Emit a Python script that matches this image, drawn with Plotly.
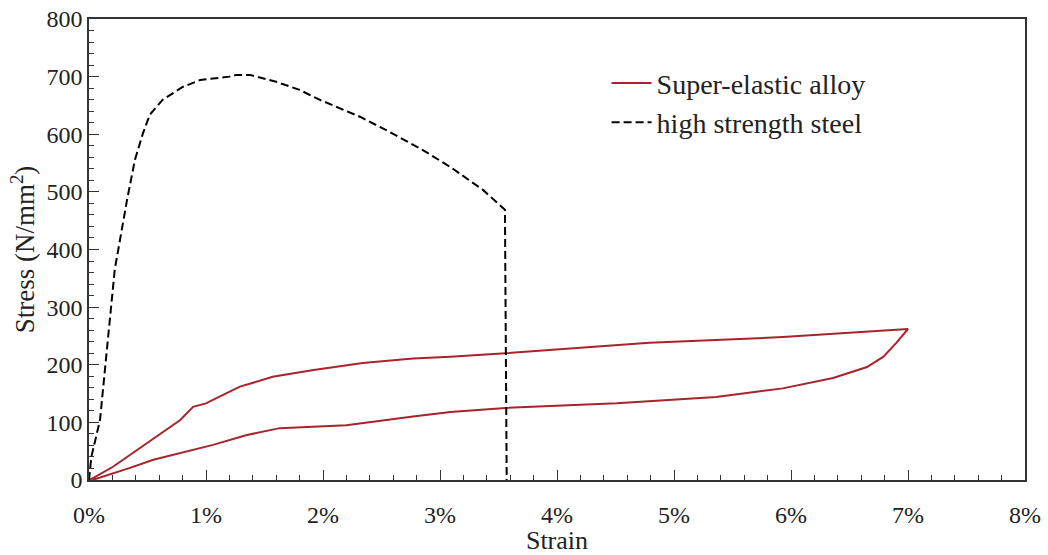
import plotly.graph_objects as go

# Super-elastic alloy: loading then unloading (strain %, stress N/mm2)
alloy_strain = [0.0, 0.03, 0.205, 0.5, 0.78, 0.89, 1.0, 1.12, 1.29, 1.57, 1.92, 2.34, 2.77, 3.09, 3.34, 3.56,
                4.79, 5.93, 7.0,
                6.9, 6.79, 6.65, 6.36, 5.93, 5.36, 4.51, 3.56, 3.34, 3.09, 2.77, 2.2, 1.63, 1.35, 1.06,
                0.78, 0.55, 0.35, 0.03]
alloy_stress = [0, 3, 23, 64, 104, 127, 133, 145, 162, 179, 191, 203, 211, 214, 217, 220,
                238, 248, 262,
                238, 214, 196, 177, 159, 144, 133, 125, 122, 118, 110, 95, 90, 78, 61,
                47, 35, 21, 0]

# High strength steel
steel_strain = [0.0, 0.02, 0.094, 0.137, 0.22, 0.325, 0.393, 0.46, 0.52, 0.63, 0.80, 0.95, 1.2, 1.26,
                1.376, 1.6, 1.8, 1.97, 2.32, 2.57, 2.85, 3.09, 3.37, 3.555, 3.57]
steel_stress = [0, 40, 104, 191, 365, 486, 556, 601, 634, 660, 682, 694, 700, 703,
                703, 691, 677, 660, 630, 604, 573, 543, 503, 469, 0]

x_ticks = [0, 1, 2, 3, 4, 5, 6, 7, 8]
x_tick_labels = ["0%", "1%", "2%", "3%", "4%", "5%", "6%", "7%", "8%"]
y_ticks = [0, 100, 200, 300, 400, 500, 600, 700, 800]

FONT = "Liberation Serif"
TXT = "#222"

fig = go.Figure()
fig.add_trace(go.Scatter(x=alloy_strain, y=alloy_stress, mode="lines",
                         name="Super-elastic alloy",
                         line=dict(color="#a8232a", width=2)))
fig.add_trace(go.Scatter(x=steel_strain, y=steel_stress, mode="lines",
                         name="high strength steel",
                         line=dict(color="black", width=2, dash="8px,4px")))

axis_common = dict(
    showgrid=False, zeroline=False, showline=True, linecolor="#333", linewidth=1.5,
    mirror=True, ticks="inside", ticklen=10, tickwidth=1, tickcolor="#333",
    tickfont=dict(family=FONT, size=24, color=TXT), automargin=False,
)

fig.update_xaxes(range=[0, 8], tickmode="array", tickvals=x_ticks, ticktext=x_tick_labels,
                 ticklabelstandoff=12,
                 minor=dict(dtick=0.2, ticks="inside", ticklen=5, tickcolor="#333"),
                 title=dict(text="Strain", font=dict(family=FONT, size=26, color=TXT), standoff=2),
                 **axis_common)
fig.update_yaxes(range=[0, 800], tickmode="array", tickvals=y_ticks,
                 minor=dict(dtick=20, ticks="inside", ticklen=5, tickcolor="#333"),
                 title=dict(text="Stress (N/mm<sup>2</sup>)", font=dict(family=FONT, size=27, color=TXT), standoff=4),
                 **axis_common)

fig.update_layout(
    width=1048, height=555,
    margin=dict(l=89, r=23, t=19, b=75),
    paper_bgcolor="white", plot_bgcolor="white",
    font=dict(family=FONT, size=24, color=TXT),
    legend=dict(x=0.553, y=0.915, xanchor="left", yanchor="top",
                bgcolor="rgba(0,0,0,0)", font=dict(family=FONT, size=28, color=TXT),
                itemwidth=40, tracegroupgap=0),
    showlegend=True,
)

fig.write_html("out.html")
